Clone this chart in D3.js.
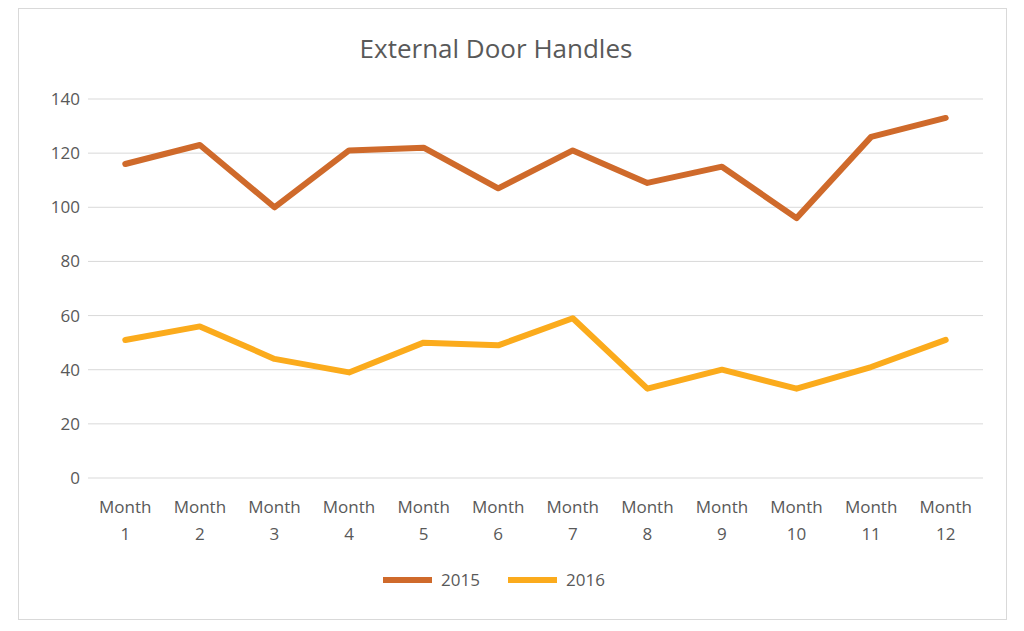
<html>
<head>
<script src="https://d3js.org/d3.v7.min.js"></script>
<style>
body { margin:0; background:#fff; }
text { font-family: "Open Sans", "Liberation Sans", sans-serif; fill:#595959; }
</style>
</head>
<body>
<svg id="chart" width="1024" height="631"></svg>
<script>
var months = ["1","2","3","4","5","6","7","8","9","10","11","12"];
var series = [
	{name:"2015", color:"#cf6a2b", values:[116,123,100,121,122,107,121,109,115,96,126,133]},
	{name:"2016", color:"#fbab1c", values:[51,56,44,39,50,49,59,33,40,33,41,51]}
];

var svg = d3.select("#chart");
svg.append("rect").attr("x",18.5).attr("y",8.5).attr("width",988).attr("height",611)
	.attr("fill","#fff").attr("stroke","#d9d9d9");

var xScale = d3.scaleBand().domain(months).range([88, 983]);
var yScale = d3.scaleLinear().domain([0, 140]).range([478, 99]);

// gridlines
svg.append("g").selectAll("line")
	.data(yScale.ticks(7))
	.enter().append("line")
	.attr("x1",88).attr("x2",983)
	.attr("y1",d=>yScale(d)).attr("y2",d=>yScale(d))
	.attr("stroke","#d9d9d9").attr("stroke-width",1);

// y axis labels
var yAxisG = svg.append("g").attr("transform","translate(80,0)")
	.call(d3.axisLeft(yScale).ticks(7).tickSize(0).tickPadding(0));
yAxisG.select(".domain").remove();
yAxisG.selectAll("text").style("font-size","17px").attr("fill","#595959");

// x axis labels (two lines)
var xl = svg.append("g").selectAll("text").data(months).enter().append("text")
	.attr("x", d=>xScale(d)+xScale.bandwidth()/2)
	.attr("text-anchor","middle").style("font-size","17px");
xl.append("tspan").attr("x", d=>xScale(d)+xScale.bandwidth()/2).attr("y",513).text("Month");
xl.append("tspan").attr("x", d=>xScale(d)+xScale.bandwidth()/2).attr("y",540).text(d=>d);

var lineGenerator = d3.line()
	.x((d,i)=>xScale(months[i])+xScale.bandwidth()/2)
	.y(d=>yScale(d));

series.forEach(function(s){
	svg.append("path")
		.attr("d", lineGenerator(s.values))
		.attr("fill","none")
		.attr("stroke", s.color)
		.attr("stroke-width", 6)
		.attr("stroke-linejoin","round")
		.attr("stroke-linecap","round");
});

// legend
var lg = svg.append("g").selectAll("g").data(series).enter().append("g")
	.attr("transform",(d,i)=>"translate(" + (383 + i*125) + ",580)");
lg.append("line").attr("x1",0).attr("x2",49).attr("stroke",d=>d.color).attr("stroke-width",6);
lg.append("text").attr("x",58).attr("y",6).style("font-size","17px").text(d=>d.name);

// title
svg.append("text").attr("x",496).attr("y",58).attr("text-anchor","middle")
	.style("font-size","26px").text("External Door Handles");
</script>
</body>
</html>
